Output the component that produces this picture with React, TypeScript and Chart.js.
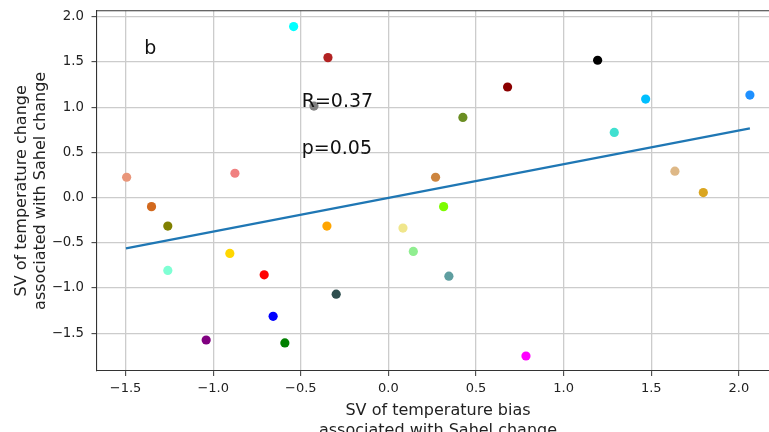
import React, { useEffect, useRef } from "react";
import { Chart, registerables } from "chart.js";

Chart.register(...registerables);

// ---- data ----
const xValues = [
  -0.541, -0.345, -0.425, -1.494, -0.876, 1.194, 0.68, 0.425, 1.468, 2.063,
  1.289, 0.269, 1.635, 1.797, -1.352, -1.259, -1.259, -0.905, -0.709, -0.658,
  -1.04, -0.591, -0.351, -0.298, 0.315, 0.083, 0.142, 0.345, 0.785,
];
const yValues = [
  1.891, 1.548, 1.012, 0.225, 0.269, 1.519, 1.223, 0.887, 1.09, 1.134,
  0.721, 0.225, 0.292, 0.055, -0.1, -0.315, -0.806, -0.618, -0.854, -1.313,
  -1.575, -1.608, -0.315, -1.068, -0.1, -0.337, -0.595, -0.869, -1.752,
];
const pointColors = [
  "cyan", "firebrick", "gray", "darksalmon", "lightcoral", "black", "darkred", "olivedrab", "deepskyblue", "dodgerblue",
  "turquoise", "peru", "burlywood", "goldenrod", "chocolate", "olive", "aquamarine", "gold", "red", "blue",
  "purple", "green", "orange", "darkslategray", "lawngreen", "khaki", "lightgreen", "cadetblue", "magenta",
];
const fitX = [-1.498, 2.063];
const fitY = [-0.562, 0.765];
const xTicks = [-1.5, -1.0, -0.5, 0.0, 0.5, 1.0, 1.5, 2.0];
const yTicks = [-1.5, -1.0, -0.5, 0.0, 0.5, 1.0, 1.5, 2.0];
const xTitle = ["SV of temperature bias", "associated with Sahel change"];
const yTitle = ["SV of temperature change", "associated with Sahel change"];
const noteTexts = ["b", "R=0.37", "p=0.05"];
const noteX = [-1.394, -0.495, -0.495];
const noteY = [1.589, 1.0, 0.486];

const FONT = "'DejaVu Sans', sans-serif";
const fmt = (v: number) => (v < 0 ? "\u2212" : "") + Math.abs(v).toFixed(1);

const overlay = {
  id: "overlay",
  afterDraw(chart: any) {
    const ctx = chart.ctx;
    const area = chart.chartArea;
    const xs = chart.scales.x;
    const ys = chart.scales.y;
    ctx.save();
    // top spine
    ctx.strokeStyle = "#333";
    ctx.lineWidth = 1.1;
    ctx.beginPath();
    ctx.moveTo(area.left, area.top);
    ctx.lineTo(area.right, area.top);
    ctx.stroke();
    // annotations
    ctx.fillStyle = "#111";
    ctx.font = `19px ${FONT}`;
    ctx.textAlign = "left";
    ctx.textBaseline = "alphabetic";
    noteTexts.forEach((t, i) => {
      ctx.fillText(t, xs.getPixelForValue(noteX[i]), ys.getPixelForValue(noteY[i]));
    });
    // x title
    ctx.fillStyle = "#222";
    ctx.font = `16px ${FONT}`;
    ctx.textAlign = "center";
    ctx.fillText(xTitle[0], 438, 415);
    ctx.fillText(xTitle[1], 438, 434.5);
    // y title
    const cy = (area.top + area.bottom) / 2;
    ctx.save();
    ctx.translate(26, cy);
    ctx.rotate(-Math.PI / 2);
    ctx.fillText(yTitle[0], 0, 0);
    ctx.restore();
    ctx.save();
    ctx.translate(45.3, cy);
    ctx.rotate(-Math.PI / 2);
    ctx.fillText(yTitle[1], 0, 0);
    ctx.restore();
    ctx.restore();
  },
};

export default function App() {
  const ref = useRef<HTMLCanvasElement>(null);
  useEffect(() => {
    if (!ref.current) return;
    const points = xValues.map((x, i) => ({ x, y: yValues[i] }));
    const line = fitX.map((x, i) => ({ x, y: fitY[i] }));
    const chart = new Chart(ref.current, {
      type: "scatter",
      data: {
        datasets: [
          {
            type: "line",
            data: line,
            borderColor: "#1f77b4",
            borderWidth: 2.2,
            pointRadius: 0,
            fill: false,
            order: 0,
          } as any,
          {
            data: points,
            backgroundColor: pointColors,
            borderWidth: 0,
            pointRadius: 4.6,
            order: 1,
          },
        ],
      },
      options: {
        animation: false,
        responsive: false,
        layout: { autoPadding: false, padding: { top: 10.7, left: 0, right: 0, bottom: 0 } },
        plugins: { legend: { display: false }, tooltip: { enabled: false } },
        scales: {
          x: {
            type: "linear",
            min: -1.666,
            max: 2.172,
            afterBuildTicks: (s: any) => {
              s.ticks = xTicks.map((v) => ({ value: v }));
            },
            afterFit: (s: any) => {
              s.height = 61;
              s.paddingLeft = 0;
              s.paddingRight = 0;
            },
            ticks: {
              callback: (v: any) => fmt(Number(v)),
              font: { family: FONT, size: 13 },
              color: "#222",
              padding: 5,
              maxRotation: 0,
              autoSkip: false,
            },
            grid: { color: "#cccccc", lineWidth: 1.3, tickColor: "#333", tickLength: 5, tickWidth: 1 },
            border: { color: "#333", width: 1.1 },
          },
          y: {
            type: "linear",
            min: -1.918,
            max: 2.067,
            afterBuildTicks: (s: any) => {
              s.ticks = yTicks.map((v) => ({ value: v }));
            },
            afterFit: (s: any) => {
              s.width = 96.5;
              s.paddingTop = 0;
              s.paddingBottom = 0;
            },
            ticks: {
              callback: (v: any) => fmt(Number(v)),
              font: { family: FONT, size: 13.3 },
              color: "#222",
              padding: 7.5,
              autoSkip: false,
            },
            grid: { color: "#cccccc", lineWidth: 1.3, tickColor: "#333", tickLength: 5, tickWidth: 1 },
            border: { color: "#333", width: 1.1 },
          },
        },
      },
      plugins: [overlay],
    });
    return () => chart.destroy();
  }, []);
  return (
    <div style={{ position: "fixed", left: 0, top: 0, width: 769, height: 432, background: "#fff" }}>
      <canvas ref={ref} width={769} height={432} style={{ display: "block" }} />
    </div>
  );
}
